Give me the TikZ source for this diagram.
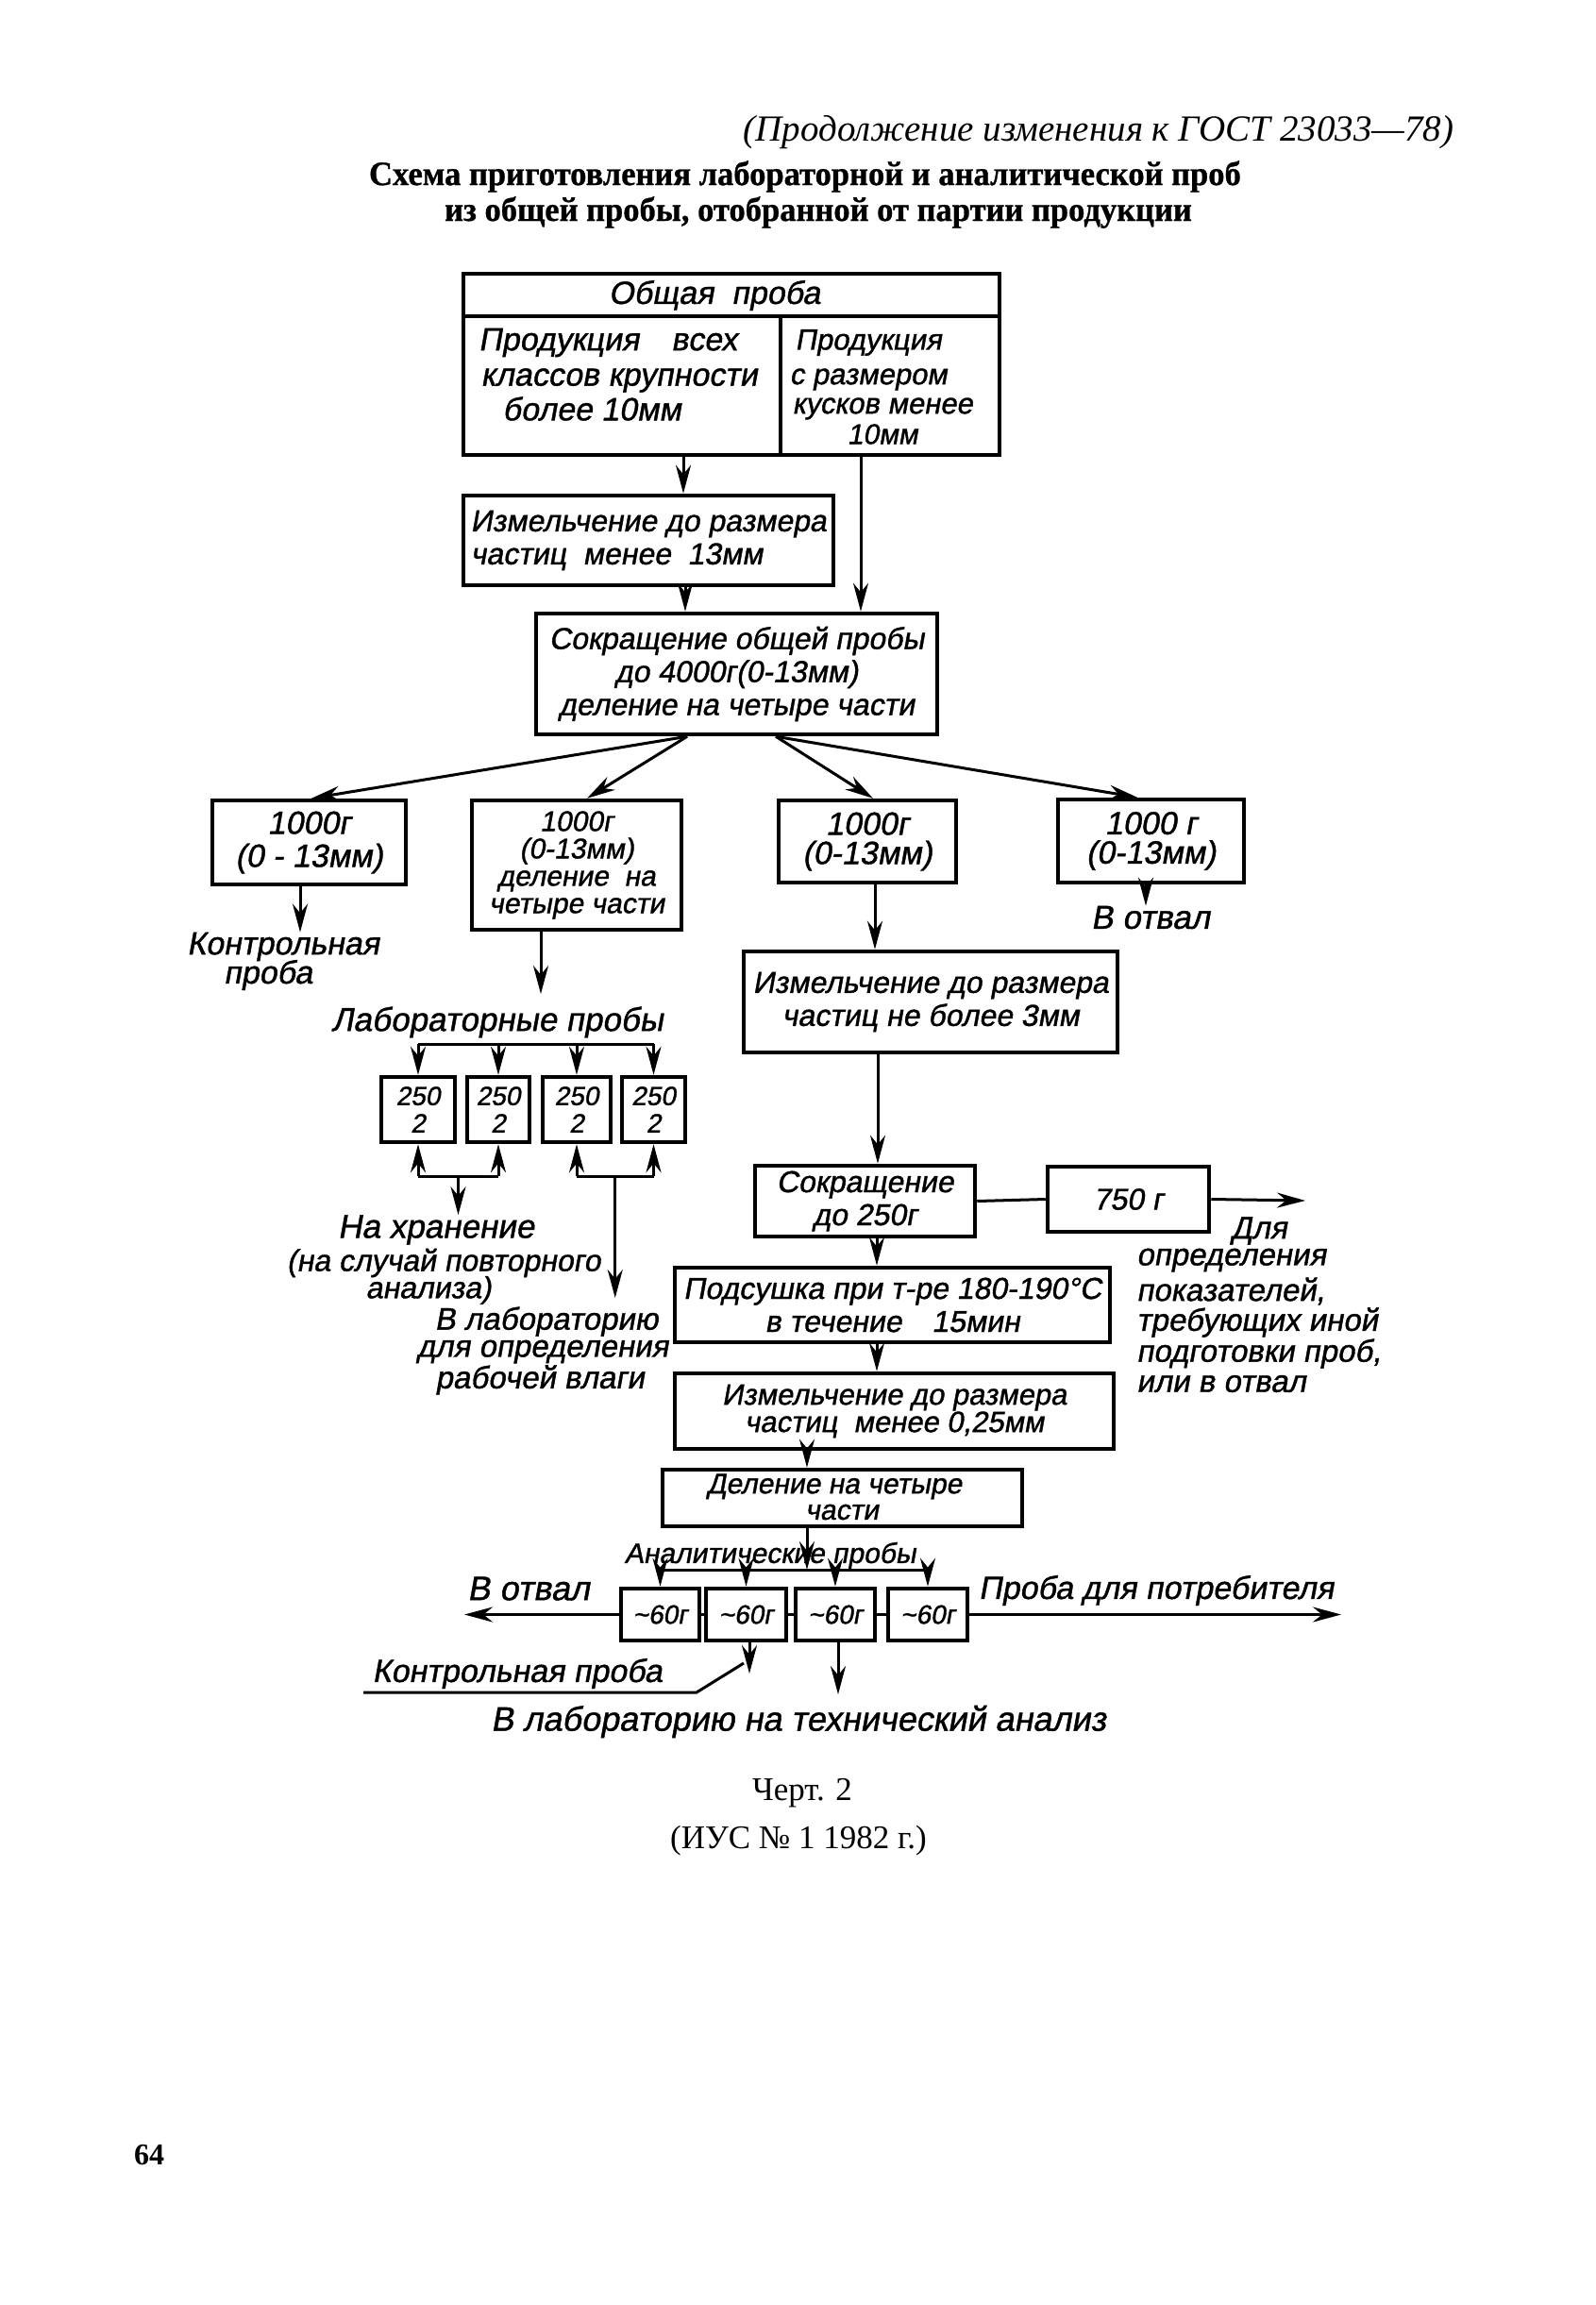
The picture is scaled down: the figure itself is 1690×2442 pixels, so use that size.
\documentclass[tikz,border=0pt]{standalone}
\usepackage{fontspec}
\setmainfont{Liberation Serif}
\newfontfamily\hand[FakeSlant=0.18,FakeBold=1.2]{Liberation Sans}
\newfontfamily\ttlfont[FakeStretch=0.96,FakeBold=0.8]{Liberation Serif Bold}
\usetikzlibrary{arrows.meta,calc}
\newcommand\hs[2]{\hand\fontsize{#1}{#2}\selectfont}
\newcommand\mybox[7][]{\node[box,#1, minimum width={#5pt-#3pt}, minimum height={#6pt-#4pt}] (#2) at ({(#3+#5)/2},{(#4+#6)/2}) {#7};}
\tikzset{
  box/.style={draw, line width=4.5pt, inner sep=0pt, align=center, font=\hs{32}{35}},
  txt/.style={inner sep=0pt, align=center, font=\hs{34}{36}},
  conn/.style={line width=3pt},
  arr/.style={conn, -{Stealth[length=30pt,width=16pt]}},
}
\begin{document}
\begin{tikzpicture}[x=1pt,y=-1pt]
\fill[white] (0,0) rectangle (1690,2442);
\useasboundingbox (0,0) rectangle (1690,2442);

% header and title
\node[inner sep=0pt, font=\itshape\fontsize{39}{39}\selectfont] (hdr) at (1164,140) {(Продолжение изменения к ГОСТ 23033—78)};
\node[inner sep=0pt, font=\ttlfont\fontsize{36}{34}\selectfont] (ttl1) at (853,187) {Схема приготовления лабораторной и аналитической проб};
\node[inner sep=0pt, font=\ttlfont\fontsize{36}{34}\selectfont] (ttl2) at (867,225) {из\ общей\ пробы,\ отобранной\ от\ партии\ продукции};

% top box
\mybox{T}{491}{290}{1059}{482}{}
\draw[line width=4.5pt] (T.west |- 0,335) -- (T.east |- 0,335);
\draw[line width=4.5pt] (T.south -| 827,0) -- (827,335);
\node[txt] (t0) at (757,313) {Общая\ \ проба};
\node[txt] (t1) at (644,363) {Продукция\quad всех};
\node[txt] (t2) at (656,403) {классов крупности};
\node[txt] (t3) at (627,433) {более 10мм};
\node[txt, font=\hs{31}{32}] (r1) at (920,363) {Продукция};
\node[txt, font=\hs{31}{32}] (r2) at (920,402) {с размером};
\node[txt, font=\hs{31}{32}] (r3) at (935,433) {кусков менее};
\node[txt, font=\hs{30}{32}] (r4) at (935,460) {10мм};

% main chain
\mybox[align=left]{B2}{491}{525}{883}{620}{Измельчение до размера\\частиц\ \ менее\ \ 13мм}
\mybox{B3}{568}{650}{993}{778}{Сокращение общей пробы\\до 4000г(0-13мм)\\деление на четыре части}
\draw[arr] (T.south -| 724,0) -- (B2.north -| 724,0);
\draw[arr] (T.south -| 912,0) -- (B3.north -| 912,0);
\draw[arr] (B2.south -| 726,0) -- (B3.north -| 726,0);

% four 1000 g boxes
\mybox[font=\hs{34}{35}]{A}{225}{848}{430}{937}{1000г\\(0 - 13мм)}
\mybox[font=\hs{30}{29}]{B}{500}{848}{722}{985}{1000г\\(0-13мм)\\деление\ \ на\\четыре части}
\mybox[font=\hs{34}{31}]{C}{825}{848}{1013}{935}{1000г\\(0-13мм)}
\mybox[font=\hs{34}{31}]{D}{1121}{847}{1318}{935}{1000 г\\(0-13мм)}
\draw[arr] (B3.south -| 728,0) -- (A.north -| 330,0);
\draw[arr] (B3.south -| 728,0) -- (B.north -| 622,0);
\draw[arr] (B3.south -| 822,0) -- (C.north -| 925,0);
\draw[arr] (B3.south -| 822,0) -- (D.north -| 1205,0);

% control sample
\node[txt] (kp1) at (300,1003) {Контрольная};
\node[txt] (kp2) at (284,1033) {проба};
\draw[arr] (A.south -| 318,0) -- (kp1.north -| 318,0);

% laboratory samples
\coordinate (labend) at (573,1053);
\draw[arr] (B.south -| 573,0) -- (labend);
\node[txt, font=\hs{35}{36}] (lab) at (527,1083) {Лабораторные пробы};
\mybox[font=\hs{28}{29}]{L1}{404}{1141}{482}{1210}{250\\2}
\mybox[font=\hs{28}{29}]{L2}{495}{1141}{561}{1210}{250\\2}
\mybox[font=\hs{28}{29}]{L3}{575}{1141}{647}{1210}{250\\2}
\mybox[font=\hs{28}{29}]{L4}{659}{1141}{726}{1210}{250\\2}
\draw[conn] (L1.north |- 0,1106) -- (L4.north |- 0,1106);
\foreach \n in {L1,L2,L3,L4} \draw[arr] (\n.north |- 0,1106) -- (\n.north);
\coordinate (h1) at (L1.south |- 0,1246);
\coordinate (h2) at (L2.south |- 0,1246);
\coordinate (h3) at (L3.south |- 0,1246);
\coordinate (h4) at (L4.south |- 0,1246);
\draw[conn] (h1) -- (h2);
\draw[conn] (h3) -- (h4);
\foreach \a/\n in {h1/L1,h2/L2,h3/L3,h4/L4} \draw[arr] (\a) -- (\n.south);
\node[txt, font=\hs{35}{36}] (hr1) at (462,1303) {На хранение};
\node[txt, font=\hs{32}{33}] (hr2) at (470,1338) {(на случай повторного};
\node[txt, font=\hs{32}{33}] (hr3) at (454,1367) {анализа)};
\coordinate (hm) at ($(h1)!0.5!(h2)$);
\draw[arr] (hm) -- (hr1.north -| hm);
\node[txt, font=\hs{33}{34}] (vl1) at (579,1400) {В лабораторию};
\node[txt, font=\hs{33}{34}] (vl2) at (575,1432) {для определения};
\node[txt, font=\hs{33}{34}] (vl3) at (572,1462) {рабочей влаги};
\coordinate (vm) at ($(h3)!0.5!(h4)$);
\coordinate (vlend) at ($(vm) + (0,129)$);
\draw[arr] (vm) -- (vlend);

% discard
\node[txt, font=\hs{35}{36}] (otv) at (1219,972) {В отвал};
\draw[arr] (D.south -| 1214,0) -- (otv.north -| 1214,0);

% right chain
\mybox{E}{788}{1008}{1184}{1115}{Измельчение до размера\\частиц не более 3мм}
\draw[arr] (C.south -| 927,0) -- (E.north -| 927,0);
\mybox{F}{800}{1235}{1033}{1310}{Сокращение\\до 250г}
\draw[arr] (E.south -| 930,0) -- (F.north -| 930,0);
\mybox{G}{1110}{1236}{1281}{1305}{750 г}
\draw[conn] (F.east) -- (G.west);
\coordinate (gend) at (1383,1272);
\draw[arr] (G.east) -- (gend);
\node[txt, font=\hs{33}{34}, anchor=west] (d1) at (1304,1304) {Для};
\node[txt, font=\hs{33}{34}, anchor=west] (d2) at (1204,1335) {определения};
\node[txt, font=\hs{33}{34}, anchor=west] (d3) at (1204,1368) {показателей,};
\node[txt, font=\hs{33}{34}, anchor=west] (d4) at (1204,1401) {требующих иной};
\node[txt, font=\hs{33}{34}, anchor=west] (d5) at (1204,1434) {подготовки проб,};
\node[txt, font=\hs{33}{34}, anchor=west] (d6) at (1204,1466) {или в отвал};

\mybox{H}{715}{1343}{1176}{1422}{Подсушка при т-ре 180-190°С\\в течение\quad 15мин}
\draw[arr] (F.south -| 929,0) -- (H.north -| 929,0);
\mybox[font=\hs{31}{29}]{I}{715}{1455}{1180}{1535}{Измельчение до размера\\частиц\ \ менее 0,25мм}
\draw[arr] (H.south -| 929,0) -- (I.north -| 929,0);
\mybox{J}{702}{1557}{1083}{1617}{}
\node[txt, font=\hs{30}{31}] (j1) at (884,1575) {Деление на четыре};
\node[txt, font=\hs{30}{31}] (j2) at (892,1602) {части};
\draw[arr] (I.south -| 855,0) -- (J.north -| 855,0);

% analytical samples
\node[txt, font=\hs{30}{31}] (an) at (816,1648) {Аналитические пробы};
\mybox[font=\hs{28}{29}]{S1}{658}{1683}{741}{1738}{\textasciitilde60г}
\mybox[font=\hs{28}{29}]{S2}{748}{1683}{833}{1738}{\textasciitilde60г}
\mybox[font=\hs{28}{29}]{S3}{843}{1683}{927}{1738}{\textasciitilde60г}
\mybox[font=\hs{28}{29}]{S4}{941}{1683}{1025}{1738}{\textasciitilde60г}
\draw[arr] (J.south -| 855,0) -- (855,1663);
\draw[conn] (S1.north |- 0,1663) -- (S4.north |- 0,1663);
\foreach \n in {S1,S2,S3,S4} \draw[arr] (\n.north |- 0,1663) -- (\n.north);
\draw[conn] (S1.east) -- (S2.west);
\draw[conn] (S2.east) -- (S3.west);
\draw[conn] (S3.east) -- (S4.west);
\node[txt, font=\hs{36}{36}] (otv2) at (560,1683) {В отвал};
\draw[arr] (S1.west) -- (S1.west -| 492,0);
\node[txt] (potr) at (1225,1685) {Проба для потребителя};
\draw[arr] (S4.east) -- (S4.east -| 1421,0);
\coordinate (kptip) at (794,1773);
\draw[arr] (S2.south -| 794,0) -- (kptip);
\node[txt] (kp) at (548,1773) {Контрольная проба};
\coordinate (kpa) at (788,1762);
\coordinate (kpb) at (738,1793);
\coordinate (kpc) at (385,1793);
\draw[conn] (kpa) -- (kpb) -- (kpc);
\node[txt, font=\hs{36}{36}] (tech) at (846,1824) {В лабораторию на технический анализ};
\coordinate (techtip) at (888,1795);
\draw[arr] (S3.south -| 888,0) -- (techtip);

% caption
\node[inner sep=0pt, font=\fontsize{35}{36}\selectfont] (cher) at (850,1900) {Черт. 2};
\node[inner sep=0pt, font=\fontsize{35}{36}\selectfont] (ius) at (846,1950) {(ИУС № 1 1982 г.)};
\node[inner sep=0pt, font=\bfseries\fontsize{32}{34}\selectfont] (pg) at (158,2283) {64};
\end{tikzpicture}
\end{document}
